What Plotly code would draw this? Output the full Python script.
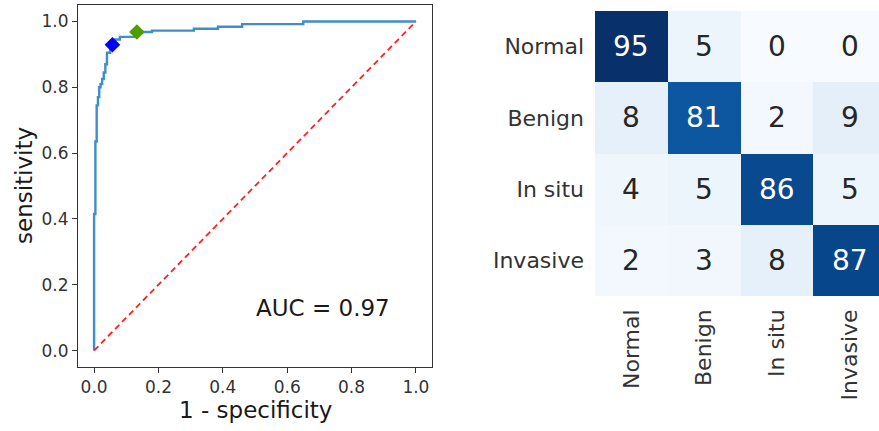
import plotly.graph_objects as go

# ---- ROC data ----
fpr = [0.0, 0.0, 0.004, 0.004, 0.008, 0.012, 0.016, 0.02, 0.025, 0.03, 0.035, 0.04,
       0.05, 0.057, 0.065, 0.08, 0.112, 0.125, 0.14, 0.18, 0.31, 0.385, 0.46, 0.65, 1.0]
tpr = [0.0, 0.415, 0.415, 0.635, 0.745, 0.77, 0.80, 0.81, 0.825, 0.845, 0.87, 0.905,
       0.92, 0.93, 0.945, 0.953, 0.953, 0.962, 0.968, 0.972, 0.978, 0.984, 0.992, 1.0, 1.0]
diag_x = [0.0, 1.0]
diag_y = [0.0, 1.0]
op_blue_x, op_blue_y = [0.057], [0.929]
op_green_x, op_green_y = [0.133], [0.968]
auc_label = "AUC = 0.97"
roc_ticks = [0.0, 0.2, 0.4, 0.6, 0.8, 1.0]

# ---- Confusion matrix data ----
classes = ["Normal", "Benign", "In situ", "Invasive"]
cm = [
    [95, 5, 0, 0],
    [8, 81, 2, 9],
    [4, 5, 86, 5],
    [2, 3, 8, 87],
]

blues = ['#f7fbff', '#deebf7', '#c6dbef', '#9ecae1', '#6baed6',
         '#4292c6', '#2171b5', '#08519c', '#08306b']
colorscale = [[i / (len(blues) - 1), c] for i, c in enumerate(blues)]

FONT = "DejaVu Sans"
TXT = "#333333"
W, H = 879, 431

fig = go.Figure()

fig.add_trace(go.Scatter(x=fpr, y=tpr, mode="lines", line=dict(color="#3e8ecb", width=2.4, shape="hv"),
                         xaxis="x", yaxis="y", showlegend=False))
fig.add_trace(go.Scatter(x=diag_x, y=diag_y, mode="lines", line=dict(color="#ff2020", width=1.8, dash="6px,4px"),
                         xaxis="x", yaxis="y", showlegend=False))
fig.add_trace(go.Scatter(x=op_blue_x, y=op_blue_y, mode="markers",
                         marker=dict(symbol="diamond", size=12, color="#0000ff"),
                         xaxis="x", yaxis="y", showlegend=False))
fig.add_trace(go.Scatter(x=op_green_x, y=op_green_y, mode="markers",
                         marker=dict(symbol="diamond", size=12, color="#4f9e00"),
                         xaxis="x", yaxis="y", showlegend=False))

n = len(classes)
fig.add_trace(go.Heatmap(z=cm, x=list(range(n)), y=list(range(n)), colorscale=colorscale,
                         zmin=0, zmax=max(max(r) for r in cm), showscale=False,
                         xaxis="x2", yaxis="y2", hoverinfo="skip"))

annotations = []
vmax = max(max(r) for r in cm)
for i, row in enumerate(cm):
    for j, v in enumerate(row):
        annotations.append(dict(x=j, y=i, xref="x2", yref="y2", text=str(v), showarrow=False,
                                xanchor="center", yanchor="middle",
                                font=dict(family=FONT, size=28,
                                          color="white" if v > vmax / 2 else "#262626")))

annotations.append(dict(x=0.712, y=0.13, xref="x", yref="y", text=auc_label, showarrow=False,
                        xanchor="center", yanchor="middle",
                        font=dict(family=FONT, size=23, color="#1a1a1a")))
annotations.append(dict(x=(78 + 432) / 2 / W, y=1 - 410 / H, xref="paper", yref="paper",
                        text="1 - specificity", showarrow=False, xanchor="center", yanchor="middle",
                        font=dict(family=FONT, size=23, color="#1a1a1a")))
annotations.append(dict(x=24 / W, y=1 - 186 / H, xref="paper", yref="paper",
                        text="sensitivity", showarrow=False, textangle=-90,
                        xanchor="center", yanchor="middle",
                        font=dict(family=FONT, size=23, color="#1a1a1a")))

axis_common = dict(showgrid=False, zeroline=False, showline=True, linecolor="#333333", linewidth=1,
                   mirror=True, ticks="outside", ticklen=5, tickcolor="#333333",
                   tickfont=dict(family=FONT, size=17, color=TXT), tickformat=".1f",
                   tickvals=roc_ticks, range=[-0.05, 1.05])

fig.update_layout(
    width=W, height=H,
    margin=dict(l=0, r=0, t=0, b=0),
    paper_bgcolor="white", plot_bgcolor="white",
    xaxis=dict(domain=[78 / W, 432 / W], anchor="y", **axis_common),
    yaxis=dict(domain=[1 - 367 / H, 1 - 5 / H], anchor="x", **axis_common),
    xaxis2=dict(domain=[595 / W, 1.0], anchor="y2", range=[-0.5, 3.4], showgrid=False, zeroline=False,
                tickvals=list(range(n)), ticktext=classes, tickangle=-90, ticks="",
                ticklabelstandoff=8, tickfont=dict(family=FONT, size=22, color=TXT)),
    yaxis2=dict(domain=[1 - 296 / H, 1 - 11 / H], anchor="x2", range=[3.5, -0.5], showgrid=False,
                zeroline=False, tickvals=list(range(n)), ticktext=classes, ticks="",
                ticklabelstandoff=10, tickfont=dict(family=FONT, size=22, color=TXT)),
    annotations=annotations,
    showlegend=False,
)

fig.write_html("out.html", config={"displayModeBar": False},
               post_script="document.body.style.margin='0px';document.body.style.overflow='hidden';")
